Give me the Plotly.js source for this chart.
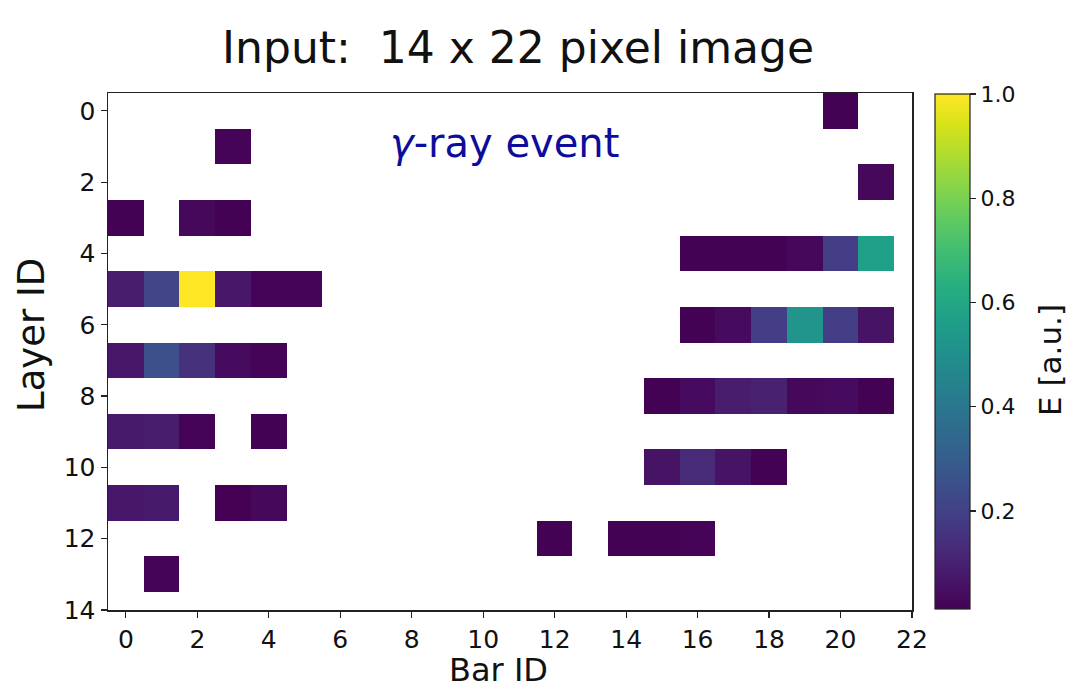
<!DOCTYPE html>
<html>
<head>
<meta charset="utf-8">
<script src="https://cdn.plot.ly/plotly-3.0.1.min.js"></script>
<style>
  html, body { margin: 0; padding: 0; background: #ffffff; }
  #chart { width: 1079px; height: 693px; }
</style>
</head>
<body>
<div id="chart"></div>
<script>
// Detector hits: layer index, bar index and deposited energy (arbitrary units)
const hitLayer = [0, 1, 2, 3, 3, 3,
  4, 4, 4, 4, 4, 4,
  5, 5, 5, 5, 5, 5,
  6, 6, 6, 6, 6, 6,
  7, 7, 7, 7, 7,
  8, 8, 8, 8, 8, 8, 8,
  9, 9, 9, 9,
  10, 10, 10, 10,
  11, 11, 11, 11,
  12, 12, 12, 12,
  13];
const hitBar = [20, 3, 21, 0, 2, 3,
  16, 17, 18, 19, 20, 21,
  0, 1, 2, 3, 4, 5,
  16, 17, 18, 19, 20, 21,
  0, 1, 2, 3, 4,
  15, 16, 17, 18, 19, 20, 21,
  0, 1, 2, 4,
  15, 16, 17, 18,
  0, 1, 3, 4,
  12, 14, 15, 16,
  1];
const hitEnergy = [0.015, 0.02, 0.03, 0.015, 0.03, 0.015,
  0.015, 0.015, 0.015, 0.03, 0.19, 0.57,
  0.09, 0.22, 1.0, 0.07, 0.02, 0.02,
  0.015, 0.04, 0.19, 0.52, 0.19, 0.06,
  0.07, 0.25, 0.15, 0.04, 0.02,
  0.015, 0.04, 0.09, 0.1, 0.03, 0.04, 0.015,
  0.08, 0.09, 0.02, 0.015,
  0.06, 0.13, 0.06, 0.015,
  0.07, 0.08, 0.012, 0.03,
  0.015, 0.015, 0.015, 0.02,
  0.02];

const nLayers = 14;
const nBars = 22;
const xTicks = [0, 2, 4, 6, 8, 10, 12, 14, 16, 18, 20, 22];
const yTicks = [0, 2, 4, 6, 8, 10, 12, 14];
const cbTicks = [0.2, 0.4, 0.6, 0.8, 1.0];

// Build the layer x bar image; empty pixels stay null (transparent)
const z = [];
for (let r = 0; r < nLayers; r++) z.push(new Array(nBars).fill(null));
hitLayer.forEach((r, i) => { z[r][hitBar[i]] = hitEnergy[i]; });

const FONT = 'DejaVu Sans';
const INK = '#111';

const trace = {
  type: 'heatmap',
  z: z,
  x: Array.from({length: nBars}, (_, i) => i),
  y: Array.from({length: nLayers}, (_, i) => i),
  colorscale: 'Viridis',
  zmin: Math.min(...hitEnergy),
  zmax: Math.max(...hitEnergy),
  xgap: 0, ygap: 0,
  hoverongaps: false,
  colorbar: {
    x: 1.0286, xanchor: 'left', xref: 'paper',
    y: 0.5, yanchor: 'middle',
    len: 0.997, lenmode: 'fraction',
    thickness: 35, thicknessmode: 'pixels',
    outlinewidth: 1.2, outlinecolor: '#222',
    ticks: 'outside', ticklen: 6, tickwidth: 1.2, tickcolor: '#222',
    tickvals: cbTicks, ticktext: cbTicks.map(v => v.toFixed(1)),
    tickfont: {family: FONT, size: 22, color: INK},
    xpad: 0, ypad: 0
  }
};

const layout = {
  width: 1079, height: 693,
  margin: {l: 108, r: 167, t: 93, b: 83},
  paper_bgcolor: '#ffffff',
  plot_bgcolor: '#ffffff',
  showlegend: false,
  title: {
    text: 'Input:  14 x 22 pixel image',
    font: {family: FONT, size: 44, color: INK},
    x: 0.51, xref: 'paper', xanchor: 'center',
    y: 0.932, yref: 'container', yanchor: 'middle'
  },
  xaxis: {
    range: [-0.5, 22],
    tickmode: 'array', tickvals: xTicks,
    ticks: 'outside', ticklen: 6, tickwidth: 1.2, tickcolor: '#222',
    showline: true, linecolor: '#222', linewidth: 1.5, mirror: true,
    showgrid: false, zeroline: false,
    tickfont: {family: FONT, size: 25, color: INK}
  },
  yaxis: {
    range: [14, -0.5],
    tickmode: 'array', tickvals: yTicks,
    ticks: 'outside', ticklen: 6, tickwidth: 1.2, tickcolor: '#222',
    showline: true, linecolor: '#222', linewidth: 1.5, mirror: true,
    showgrid: false, zeroline: false,
    tickfont: {family: FONT, size: 25, color: INK}
  },
  annotations: [
    {
      // event label inside the image
      text: '<i>γ</i>-ray event',
      x: 10.6, y: 0.9, xref: 'x', yref: 'y',
      xanchor: 'center', yanchor: 'middle',
      showarrow: false,
      font: {family: FONT, size: 40, color: '#0d0d9c'}
    },
    {
      // x-axis title
      text: 'Bar ID',
      x: 0.486, y: -0.116, xref: 'paper', yref: 'paper',
      xanchor: 'center', yanchor: 'middle',
      showarrow: false,
      font: {family: FONT, size: 32, color: INK}
    },
    {
      // y-axis title
      text: 'Layer ID', textangle: -90,
      x: -0.0945, y: 0.532, xref: 'paper', yref: 'paper',
      xanchor: 'center', yanchor: 'middle',
      showarrow: false,
      font: {family: FONT, size: 37, color: INK}
    },
    {
      // colour bar title
      text: 'E [a.u.]', textangle: -90,
      x: 1.1716, y: 0.4836, xref: 'paper', yref: 'paper',
      xanchor: 'center', yanchor: 'middle',
      showarrow: false,
      font: {family: FONT, size: 31, color: INK}
    }
  ]
};

Plotly.newPlot('chart', [trace], layout, {displayModeBar: false, staticPlot: true});
</script>
</body>
</html>
